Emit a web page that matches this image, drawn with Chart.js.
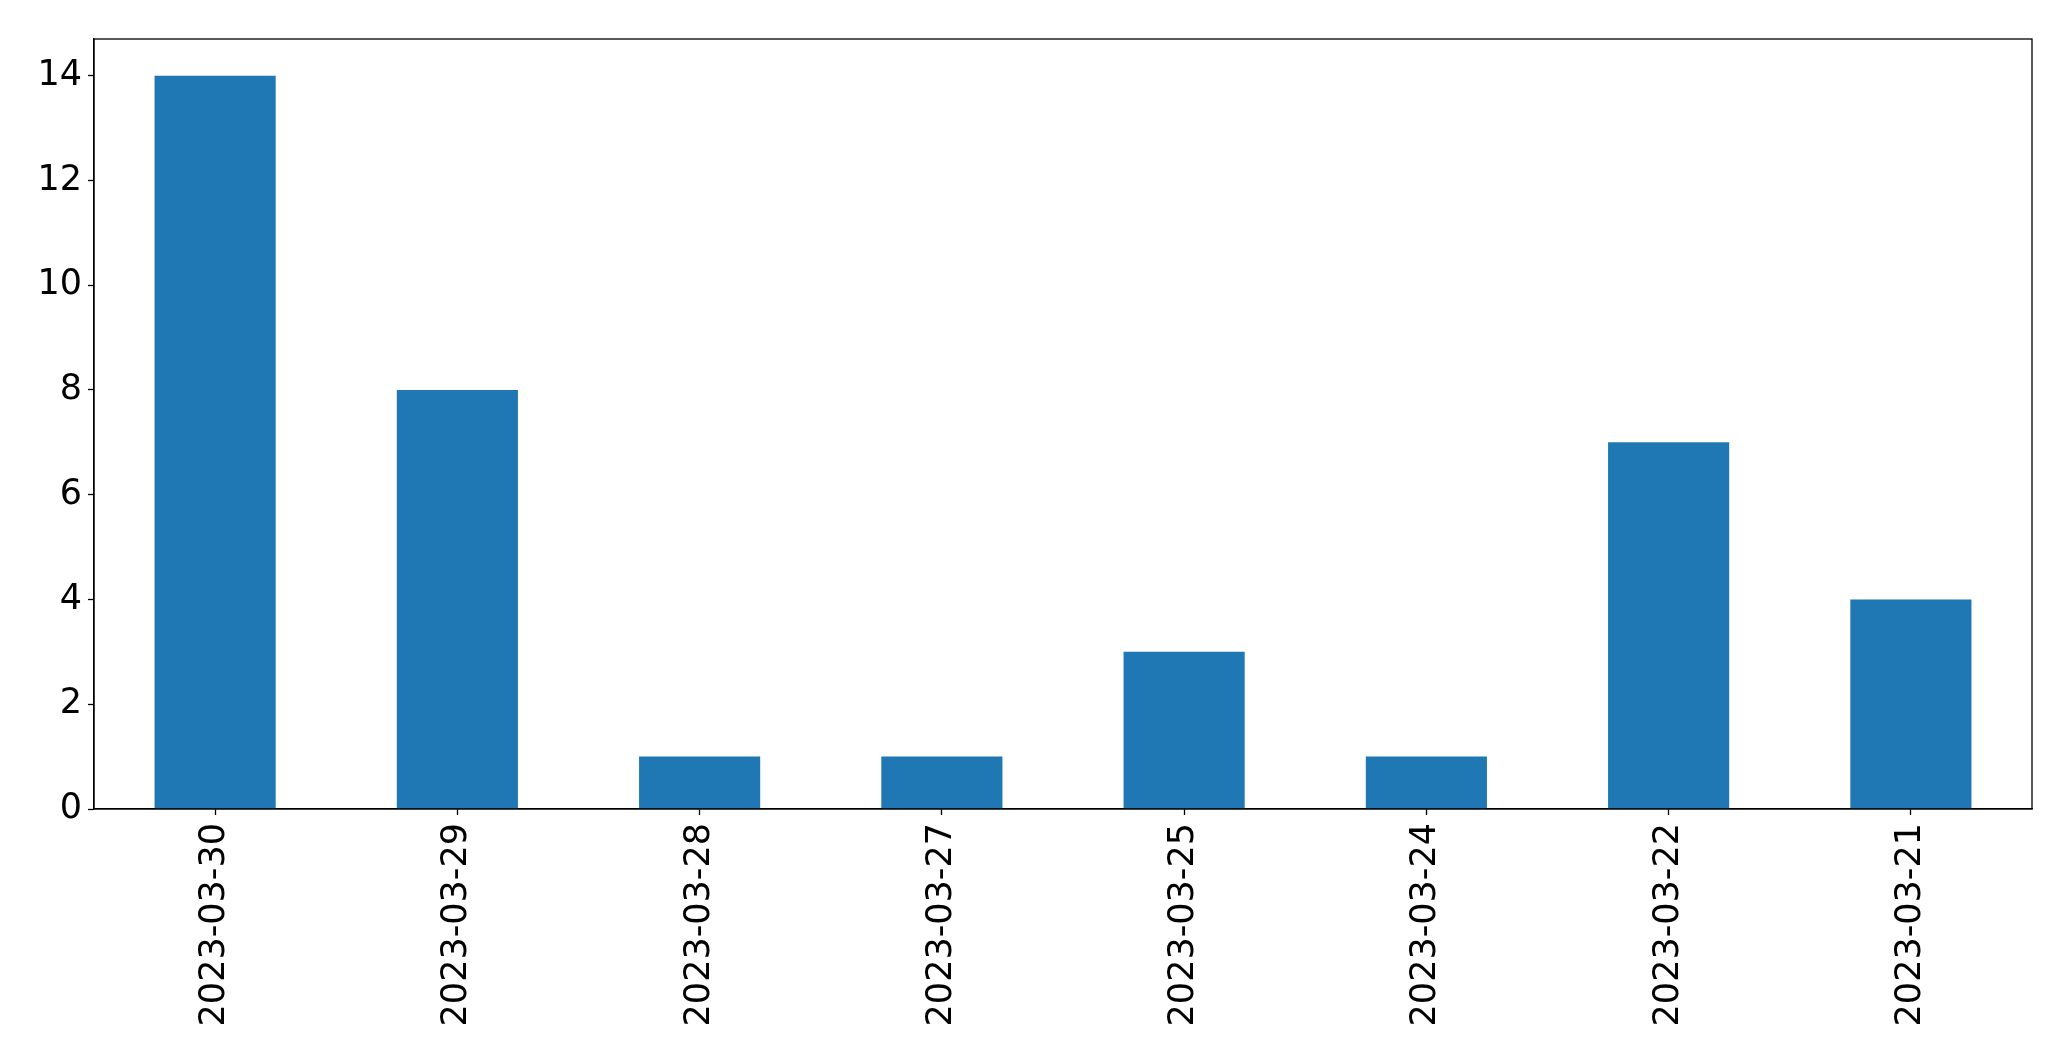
<html lang="en">
<head>
    <meta charset="UTF-8">
    <title>Chart</title>
    <style>
        html, body { margin: 0; padding: 0; background: #fff; }
        #wrap { width: 2071px; height: 1061px; }
    </style>
    <script src="https://cdn.jsdelivr.net/npm/chart.js"></script>
</head>
<body>
    <div id="wrap"><canvas id="viz"></canvas></div>
    <script>
        const dates = ['2023-03-30', '2023-03-29', '2023-03-28', '2023-03-27', '2023-03-25', '2023-03-24', '2023-03-22', '2023-03-21']
        const counts = [14, 8, 1, 1, 3, 1, 7, 4]
        const yTicks = [0, 2, 4, 6, 8, 10, 12, 14]

        const tickFont = { family: 'DejaVu Sans', size: 35 }

        // matplotlib style box round the axes
        const frame = {
            id: 'frame',
            afterDraw(chart) {
                const { ctx, chartArea: a } = chart
                ctx.save()
                ctx.strokeStyle = '#000'
                ctx.lineWidth = 1.3
                ctx.strokeRect(a.left, a.top, a.right - a.left, a.bottom - a.top)
                ctx.restore()
            }
        }

        new Chart(document.getElementById('viz'), {
            type: 'bar',
            data: {
                labels: dates,
                datasets: [{
                    data: counts,
                    backgroundColor: '#1f77b4',
                    barPercentage: 0.5,
                    categoryPercentage: 1.0
                }]
            },
            options: {
                responsive: true,
                maintainAspectRatio: false,
                animation: false,
                devicePixelRatio: 1,
                layout: { padding: { top: 39, right: 39, left: 0, bottom: 0 } },
                plugins: { legend: { display: false }, tooltip: { enabled: false } },
                scales: {
                    x: {
                        grid: { offset: false, drawOnChartArea: false, tickLength: 6, color: '#000', tickWidth: 1.3 },
                        border: { display: true, color: '#000', width: 1.3 },
                        ticks: { color: '#000', font: tickFont, minRotation: 90, maxRotation: 90, padding: 8, autoSkip: false },
                        afterFit(scale) { scale.height = 252 }
                    },
                    y: {
                        min: 0,
                        max: 14.7,
                        grid: { drawOnChartArea: false, tickLength: 6, color: '#000', tickWidth: 1.3 },
                        border: { display: true, color: '#000', width: 1.3 },
                        ticks: { color: '#000', font: tickFont, stepSize: 2, includeBounds: false, padding: 6 },
                        afterBuildTicks(scale) { scale.ticks = yTicks.map(v => ({ value: v })) },
                        afterFit(scale) { scale.width = 94 }
                    }
                }
            },
            plugins: [frame]
        })
    </script>
</body>
</html>
